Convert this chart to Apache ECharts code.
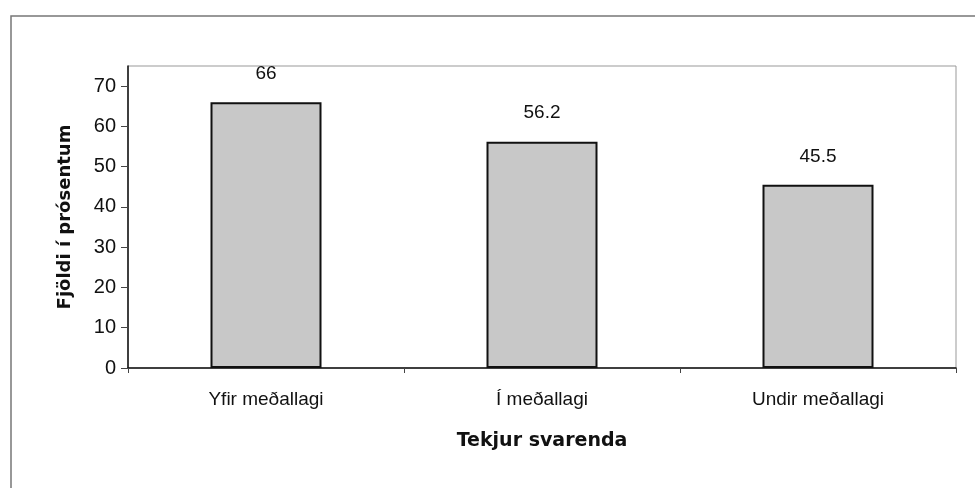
<!DOCTYPE html>
<html>
<head>
<meta charset="utf-8">
<script src="https://cdn.jsdelivr.net/npm/echarts@6/dist/echarts.min.js"></script>
<style>
  html, body { margin: 0; padding: 0; background: #fff; }
  #chart { width: 975px; height: 488px; }
</style>
</head>
<body>
<div id="chart"></div>
<script>
// data
const categories = ['Yfir meðallagi', 'Í meðallagi', 'Undir meðallagi']
const values = [66, 56.2, 45.5]
const yTitle = 'Fjöldi í prósentum'
const xTitle = 'Tekjur svarenda'

const chart = echarts.init(document.getElementById('chart'))
const font = '"Liberation Sans", Arial, sans-serif'
const titleFont = '"DejaVu Sans", "Liberation Sans", sans-serif'

chart.setOption({
  animation: false,
  backgroundColor: '#fff',
  graphic: [
    {
      // outer frame of the scanned page (runs off right and bottom)
      type: 'rect',
      shape: { x: 11, y: 16, width: 1000, height: 500 },
      style: { fill: 'none', stroke: '#777', lineWidth: 1.5 }
    }
  ],
  grid: {
    left: 128,
    right: 19,
    top: 66,
    bottom: 120,
    show: true,
    borderColor: '#999',
    borderWidth: 1
  },
  xAxis: {
    type: 'category',
    data: categories,
    name: xTitle,
    nameLocation: 'middle',
    nameGap: 64,
    nameTextStyle: {
      fontFamily: titleFont,
      fontSize: 19,
      fontWeight: 'bold',
      color: '#111'
    },
    axisLine: { lineStyle: { color: '#111', width: 1.5 } },
    axisTick: { show: true, length: 5, lineStyle: { color: '#444' } },
    axisLabel: {
      margin: 22,
      fontFamily: font,
      fontSize: 19,
      color: '#111'
    },
    splitLine: { show: false }
  },
  yAxis: {
    type: 'value',
    min: 0,
    max: 75,
    interval: 10,
    name: yTitle,
    nameLocation: 'middle',
    nameGap: 54,
    nameTextStyle: {
      fontFamily: titleFont,
      fontSize: 18,
      fontWeight: 'bold',
      color: '#111'
    },
    axisLine: { show: true, lineStyle: { color: '#111', width: 1.5 } },
    axisTick: { show: true, length: 7, lineStyle: { color: '#444' } },
    axisLabel: {
      showMaxLabel: false,
      margin: 12,
      fontFamily: font,
      fontSize: 20,
      color: '#111'
    },
    splitLine: { show: false }
  },
  series: [
    {
      type: 'bar',
      data: values,
      barWidth: 111,
      itemStyle: {
        color: '#c8c8c8',
        borderColor: '#111',
        borderWidth: 2
      },
      label: {
        show: true,
        position: 'top',
        distance: 19,
        fontFamily: font,
        fontSize: 19,
        color: '#111'
      }
    }
  ]
})
</script>
</body>
</html>
